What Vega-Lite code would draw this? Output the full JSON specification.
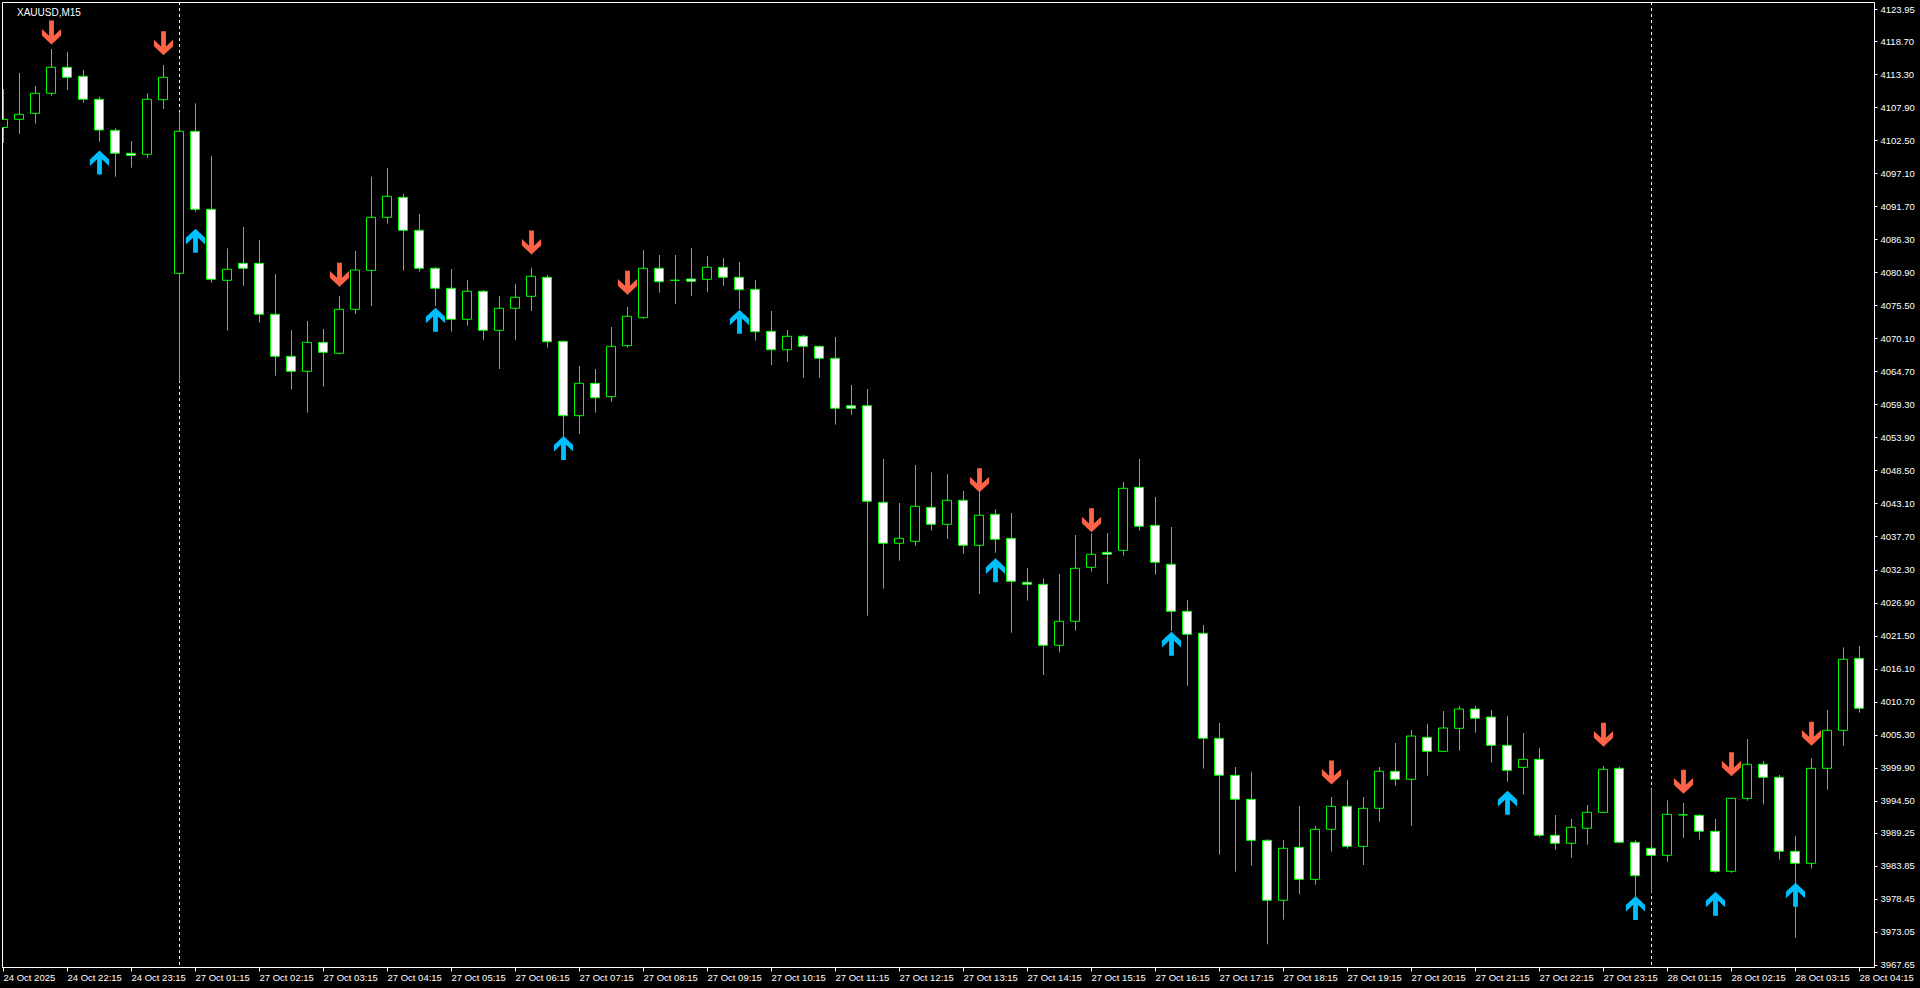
{
  "$schema": "https://vega.github.io/schema/vega-lite/v6.json",
  "width": 1872,
  "height": 965,
  "autosize": {"type": "none"},
  "padding": {"left": 2, "top": 2, "right": 46, "bottom": 21},
  "background": "#000000",
  "title": {"text": "XAUUSD,M15", "anchor": "start", "frame": "group", "orient": "top", "offset": -24, "dx": 15, "baseline": "alphabetic", "color": "#FFFFFF", "font": "Liberation Sans", "fontSize": 10, "fontWeight": "normal"},
  "config": {
    "view": {"stroke": "#FFFFFF", "strokeWidth": 1},
    "axis": {"grid": false, "title": null, "domainColor": "#FFFFFF", "domainWidth": 1, "tickColor": "#FFFFFF", "tickWidth": 1, "labelColor": "#FFFFFF", "labelFont": "Liberation Sans", "labelFontSize": 9.5, "labelOverlap": false, "labelBound": false, "labelFlush": false}
  },
  "datasets": {
    "candles": [
      {"i":0,"o":4104.60,"h":4110.90,"l":4102.07,"c":4105.94},
      {"i":1,"o":4105.94,"h":4113.52,"l":4103.54,"c":4106.76},
      {"i":2,"o":4106.92,"h":4111.39,"l":4105.22,"c":4110.20},
      {"i":3,"o":4110.20,"h":4117.44,"l":4109.80,"c":4114.45},
      {"i":4,"o":4114.45,"h":4116.95,"l":4110.74,"c":4112.81},
      {"i":5,"o":4112.98,"h":4114.01,"l":4108.66,"c":4109.21},
      {"i":6,"o":4109.21,"h":4109.64,"l":4102.28,"c":4104.19},
      {"i":7,"o":4104.14,"h":4104.47,"l":4096.55,"c":4100.38},
      {"i":8,"o":4100.38,"h":4102.39,"l":4098.03,"c":4100.05},
      {"i":9,"o":4100.22,"h":4110.20,"l":4099.66,"c":4109.21},
      {"i":10,"o":4109.15,"h":4114.82,"l":4107.63,"c":4112.81},
      {"i":11,"o":4080.75,"h":4107.19,"l":4063.02,"c":4103.98},
      {"i":12,"o":4103.98,"h":4108.56,"l":4090.83,"c":4091.22},
      {"i":13,"o":4091.22,"h":4099.94,"l":4079.21,"c":4079.77},
      {"i":14,"o":4079.61,"h":4084.84,"l":4071.36,"c":4081.41},
      {"i":15,"o":4082.39,"h":4088.33,"l":4078.72,"c":4081.57},
      {"i":16,"o":4082.39,"h":4086.20,"l":4072.67,"c":4074.05},
      {"i":17,"o":4074.05,"h":4080.64,"l":4064.00,"c":4067.17},
      {"i":18,"o":4067.17,"h":4071.48,"l":4061.78,"c":4064.72},
      {"i":19,"o":4064.72,"h":4072.95,"l":4057.95,"c":4069.46},
      {"i":20,"o":4069.46,"h":4071.64,"l":4062.20,"c":4067.83},
      {"i":21,"o":4067.67,"h":4077.04,"l":4067.50,"c":4074.86},
      {"i":22,"o":4074.86,"h":4084.40,"l":4074.09,"c":4081.29},
      {"i":23,"o":4081.24,"h":4096.55,"l":4075.40,"c":4089.91},
      {"i":24,"o":4089.91,"h":4097.98,"l":4088.87,"c":4093.35},
      {"i":25,"o":4093.18,"h":4093.72,"l":4081.18,"c":4087.79},
      {"i":26,"o":4087.79,"h":4090.45,"l":4081.01,"c":4081.57},
      {"i":27,"o":4081.57,"h":4081.73,"l":4075.40,"c":4078.30},
      {"i":28,"o":4078.30,"h":4081.46,"l":4071.20,"c":4073.23},
      {"i":29,"o":4073.23,"h":4079.66,"l":4072.18,"c":4077.81},
      {"i":30,"o":4077.81,"h":4078.02,"l":4069.84,"c":4071.43},
      {"i":31,"o":4071.43,"h":4077.04,"l":4065.10,"c":4075.03},
      {"i":32,"o":4075.03,"h":4079.00,"l":4069.84,"c":4076.83},
      {"i":33,"o":4076.99,"h":4081.67,"l":4074.59,"c":4080.26},
      {"i":34,"o":4080.10,"h":4080.47,"l":4068.58,"c":4069.56},
      {"i":35,"o":4069.63,"h":4069.70,"l":4054.02,"c":4057.46},
      {"i":36,"o":4057.46,"h":4065.59,"l":4054.47,"c":4062.76},
      {"i":37,"o":4062.76,"h":4065.10,"l":4057.95,"c":4060.40},
      {"i":38,"o":4060.57,"h":4071.97,"l":4059.75,"c":4068.81},
      {"i":39,"o":4068.91,"h":4075.24,"l":4068.58,"c":4073.72},
      {"i":40,"o":4073.49,"h":4084.56,"l":4073.33,"c":4081.57},
      {"i":41,"o":4081.57,"h":4083.75,"l":4077.58,"c":4079.38},
      {"i":42,"o":4079.61,"h":4083.75,"l":4075.73,"c":4079.61},
      {"i":43,"o":4079.82,"h":4084.89,"l":4077.04,"c":4079.44},
      {"i":44,"o":4079.77,"h":4083.58,"l":4077.69,"c":4081.73},
      {"i":45,"o":4081.73,"h":4083.25,"l":4078.67,"c":4080.10},
      {"i":46,"o":4080.10,"h":4082.60,"l":4074.91,"c":4078.07},
      {"i":47,"o":4078.13,"h":4079.66,"l":4069.73,"c":4071.20},
      {"i":48,"o":4071.26,"h":4074.59,"l":4065.75,"c":4068.25},
      {"i":49,"o":4068.25,"h":4071.48,"l":4066.29,"c":4070.45},
      {"i":50,"o":4070.45,"h":4070.66,"l":4063.67,"c":4068.81},
      {"i":51,"o":4068.81,"h":4068.90,"l":4063.67,"c":4066.85},
      {"i":52,"o":4066.85,"h":4070.33,"l":4055.99,"c":4058.67},
      {"i":53,"o":4059.09,"h":4062.48,"l":4057.62,"c":4058.67},
      {"i":54,"o":4059.09,"h":4061.83,"l":4024.74,"c":4043.46},
      {"i":55,"o":4043.29,"h":4050.38,"l":4029.16,"c":4036.59},
      {"i":56,"o":4036.59,"h":4043.18,"l":4033.74,"c":4037.40},
      {"i":57,"o":4036.91,"h":4049.39,"l":4036.19,"c":4042.64},
      {"i":58,"o":4042.47,"h":4048.20,"l":4038.65,"c":4039.69},
      {"i":59,"o":4039.69,"h":4047.92,"l":4037.29,"c":4043.62},
      {"i":60,"o":4043.62,"h":4045.14,"l":4034.88,"c":4036.26},
      {"i":61,"o":4036.26,"h":4045.03,"l":4028.29,"c":4041.17},
      {"i":62,"o":4041.33,"h":4042.15,"l":4035.05,"c":4037.24},
      {"i":63,"o":4037.40,"h":4041.54,"l":4021.96,"c":4030.37},
      {"i":64,"o":4030.21,"h":4032.55,"l":4027.20,"c":4029.88},
      {"i":65,"o":4029.88,"h":4030.86,"l":4015.04,"c":4019.90},
      {"i":66,"o":4019.90,"h":4031.56,"l":4018.76,"c":4023.83},
      {"i":67,"o":4023.83,"h":4037.94,"l":4022.29,"c":4032.50},
      {"i":68,"o":4032.66,"h":4038.20,"l":4031.94,"c":4034.79},
      {"i":69,"o":4035.11,"h":4038.27,"l":4029.98,"c":4034.79},
      {"i":70,"o":4035.44,"h":4046.61,"l":4034.56,"c":4045.58},
      {"i":71,"o":4045.75,"h":4050.38,"l":4038.65,"c":4039.37},
      {"i":72,"o":4039.53,"h":4044.16,"l":4031.45,"c":4033.48},
      {"i":73,"o":4033.15,"h":4039.25,"l":4022.24,"c":4025.46},
      {"i":74,"o":4025.46,"h":4027.31,"l":4013.29,"c":4021.70},
      {"i":75,"o":4021.86,"h":4023.22,"l":3999.72,"c":4004.69},
      {"i":76,"o":4004.69,"h":4007.19,"l":3985.65,"c":3998.64},
      {"i":77,"o":3998.64,"h":3999.99,"l":3982.87,"c":3994.71},
      {"i":78,"o":3994.71,"h":3999.22,"l":3983.91,"c":3988.00},
      {"i":79,"o":3988.00,"h":3988.17,"l":3970.99,"c":3978.19},
      {"i":80,"o":3978.19,"h":3988.05,"l":3975.02,"c":3986.70},
      {"i":81,"o":3986.86,"h":3993.61,"l":3979.17,"c":3981.62},
      {"i":82,"o":3981.62,"h":3990.34,"l":3980.74,"c":3989.80},
      {"i":83,"o":3989.80,"h":3995.09,"l":3986.14,"c":3993.57},
      {"i":84,"o":3993.57,"h":3997.87,"l":3986.63,"c":3987.02},
      {"i":85,"o":3987.02,"h":3995.09,"l":3983.96,"c":3993.24},
      {"i":86,"o":3993.24,"h":3999.99,"l":3991.05,"c":3999.29},
      {"i":87,"o":3999.29,"h":4003.92,"l":3996.93,"c":3997.98},
      {"i":88,"o":3997.98,"h":4006.05,"l":3990.39,"c":4005.06},
      {"i":89,"o":4004.85,"h":4007.03,"l":3998.57,"c":4002.56},
      {"i":90,"o":4002.56,"h":4009.15,"l":4002.50,"c":4006.37},
      {"i":91,"o":4006.32,"h":4009.97,"l":4002.66,"c":4009.48},
      {"i":92,"o":4009.48,"h":4009.97,"l":4005.60,"c":4007.96},
      {"i":93,"o":4008.17,"h":4009.32,"l":4000.70,"c":4003.54},
      {"i":94,"o":4003.54,"h":4008.34,"l":3997.59,"c":3999.45},
      {"i":95,"o":3999.94,"h":4005.56,"l":3995.46,"c":4001.25},
      {"i":96,"o":4001.25,"h":4003.10,"l":3988.49,"c":3988.82},
      {"i":97,"o":3988.82,"h":3992.14,"l":3986.47,"c":3987.51},
      {"i":98,"o":3987.51,"h":3991.49,"l":3985.16,"c":3990.13},
      {"i":99,"o":3989.97,"h":3993.78,"l":3987.28,"c":3992.58},
      {"i":100,"o":3992.58,"h":4000.16,"l":3992.50,"c":3999.62},
      {"i":101,"o":3999.78,"h":4000.04,"l":3987.51,"c":3987.68},
      {"i":102,"o":3987.68,"h":3988.05,"l":3978.78,"c":3982.21},
      {"i":103,"o":3986.70,"h":3996.40,"l":3979.43,"c":3985.55},
      {"i":104,"o":3985.55,"h":3994.55,"l":3984.50,"c":3992.26},
      {"i":105,"o":3992.17,"h":3994.11,"l":3988.38,"c":3992.17},
      {"i":106,"o":3992.09,"h":3992.31,"l":3988.10,"c":3989.48},
      {"i":107,"o":3989.48,"h":3991.49,"l":3982.70,"c":3982.93},
      {"i":108,"o":3982.93,"h":3994.90,"l":3982.70,"c":3994.87},
      {"i":109,"o":3994.87,"h":4004.57,"l":3994.48,"c":4000.44},
      {"i":110,"o":4000.44,"h":4000.98,"l":3993.89,"c":3998.31},
      {"i":111,"o":3998.31,"h":3998.69,"l":3984.83,"c":3986.20},
      {"i":112,"o":3986.20,"h":3988.71,"l":3972.07,"c":3984.24},
      {"i":113,"o":3984.24,"h":4001.42,"l":3983.42,"c":3999.78},
      {"i":114,"o":3999.78,"h":4009.32,"l":3996.28,"c":4006.00},
      {"i":115,"o":4006.00,"h":4019.57,"l":4003.48,"c":4017.61},
      {"i":116,"o":4017.77,"h":4019.79,"l":4008.88,"c":4009.60}
    ],
    "signals": [
      {"i":3,"sig":"sell","p":4120.14},
      {"i":10,"sig":"sell","p":4118.37},
      {"i":21,"sig":"sell","p":4080.52},
      {"i":33,"sig":"sell","p":4085.77},
      {"i":39,"sig":"sell","p":4079.22},
      {"i":61,"sig":"sell","p":4046.88},
      {"i":68,"sig":"sell","p":4040.34},
      {"i":83,"sig":"sell","p":3999.09},
      {"i":100,"sig":"sell","p":4005.29},
      {"i":105,"sig":"sell","p":3997.60},
      {"i":108,"sig":"sell","p":4000.43},
      {"i":113,"sig":"sell","p":4005.45},
      {"i":6,"sig":"buy","p":4098.88},
      {"i":12,"sig":"buy","p":4086.06},
      {"i":27,"sig":"buy","p":4073.16},
      {"i":35,"sig":"buy","p":4052.18},
      {"i":46,"sig":"buy","p":4072.84},
      {"i":62,"sig":"buy","p":4032.16},
      {"i":73,"sig":"buy","p":4020.14},
      {"i":94,"sig":"buy","p":3994.13},
      {"i":102,"sig":"buy","p":3976.93},
      {"i":107,"sig":"buy","p":3977.63},
      {"i":112,"sig":"buy","p":3979.11}
    ],
    "separators": [{"i": 11}, {"i": 103}]
  },
  "encoding": {
    "x": {
      "field": "i", "type": "quantitative",
      "scale": {"domain": [-0.0625, 116.9375], "nice": false, "zero": false, "padding": 0},
      "axis": {
        "orient": "bottom",
        "values": [0,4,8,12,16,20,24,28,32,36,40,44,48,52,56,60,64,68,72,76,80,84,88,92,96,100,104,108,112,116],
        "labelExpr": "['24 Oct 2025','24 Oct 22:15','24 Oct 23:15','27 Oct 01:15','27 Oct 02:15','27 Oct 03:15','27 Oct 04:15','27 Oct 05:15','27 Oct 06:15','27 Oct 07:15','27 Oct 08:15','27 Oct 09:15','27 Oct 10:15','27 Oct 11:15','27 Oct 12:15','27 Oct 13:15','27 Oct 14:15','27 Oct 15:15','27 Oct 16:15','27 Oct 17:15','27 Oct 18:15','27 Oct 19:15','27 Oct 20:15','27 Oct 21:15','27 Oct 22:15','27 Oct 23:15','28 Oct 01:15','28 Oct 02:15','28 Oct 03:15','28 Oct 04:15'][round(datum.value/4)]",
        "labelAlign": "left",
        "labelBaseline": "top",
        "labelPadding": 1,
        "labelDx": -1,
        "tickSize": 4
      }
    }
  },
  "layer": [
    {
      "data": {"name": "separators"},
      "mark": {"type": "rule", "color": "#FFFFFF", "strokeWidth": 1, "strokeDash": [3, 3], "xOffset": 0.5},
      "encoding": {}
    },
    {
      "data": {"name": "candles"},
      "mark": {"type": "rule", "color": "#00FF00", "strokeWidth": 1, "clip": true, "xOffset": 0.5},
      "encoding": {
        "y": {
          "field": "l", "type": "quantitative",
          "scale": {"domain": [3967.28, 4125.13], "nice": false, "zero": false, "padding": 0},
          "axis": {
            "orient": "right",
            "values": [4123.95,4118.70,4113.30,4107.90,4102.50,4097.10,4091.70,4086.30,4080.90,4075.50,4070.10,4064.70,4059.30,4053.90,4048.50,4043.10,4037.70,4032.30,4026.90,4021.50,4016.10,4010.70,4005.30,3999.90,3994.50,3989.25,3983.85,3978.45,3973.05,3967.65],
            "format": ".2f",
            "tickSize": 3,
            "labelPadding": 3,
            "labelBaseline": "middle"
          }
        },
        "y2": {"field": "h"}
      }
    },
    {
      "data": {"name": "candles"},
      "mark": {"type": "bar", "width": 9, "stroke": "#00FF00", "strokeWidth": 1, "opacity": 1, "clip": true},
      "encoding": {
        "y": {
          "field": "o", "type": "quantitative",
          "scale": {"domain": [3967.28, 4125.13], "nice": false, "zero": false, "padding": 0},
          "axis": {
            "orient": "right",
            "values": [4123.95,4118.70,4113.30,4107.90,4102.50,4097.10,4091.70,4086.30,4080.90,4075.50,4070.10,4064.70,4059.30,4053.90,4048.50,4043.10,4037.70,4032.30,4026.90,4021.50,4016.10,4010.70,4005.30,3999.90,3994.50,3989.25,3983.85,3978.45,3973.05,3967.65],
            "format": ".2f",
            "tickSize": 3,
            "labelPadding": 3,
            "labelBaseline": "middle"
          }
        },
        "y2": {"field": "c"},
        "fill": {"condition": {"test": "datum.c >= datum.o", "value": "#000000"}, "value": "#FFFFFF"}
      }
    },
    {
      "data": {"name": "signals"},
      "mark": {"type": "point", "filled": true, "size": 576, "opacity": 1, "strokeWidth": 0, "xOffset": 0.5},
      "encoding": {
        "y": {
          "field": "p", "type": "quantitative",
          "scale": {"domain": [3967.28, 4125.13], "nice": false, "zero": false, "padding": 0},
          "axis": {
            "orient": "right",
            "values": [4123.95,4118.70,4113.30,4107.90,4102.50,4097.10,4091.70,4086.30,4080.90,4075.50,4070.10,4064.70,4059.30,4053.90,4048.50,4043.10,4037.70,4032.30,4026.90,4021.50,4016.10,4010.70,4005.30,3999.90,3994.50,3989.25,3983.85,3978.45,3973.05,3967.65],
            "format": ".2f",
            "tickSize": 3,
            "labelPadding": 3,
            "labelBaseline": "middle"
          }
        },
        "shape": {
          "field": "sig", "type": "nominal", "legend": null,
          "scale": {"domain": ["sell", "buy"], "range": [
            "M -0.2 -1 L 0.2 -1 L 0.2 0.26 L 0.8 -0.3 L 0.8 0.25 L 0 1 L -0.8 0.25 L -0.8 -0.3 L -0.2 0.26 Z",
            "M -0.2 1 L 0.2 1 L 0.2 -0.26 L 0.8 0.3 L 0.8 -0.25 L 0 -1 L -0.8 -0.25 L -0.8 0.3 L -0.2 -0.26 Z"
          ]}
        },
        "fill": {
          "field": "sig", "type": "nominal", "legend": null,
          "scale": {"domain": ["sell", "buy"], "range": ["#FF6347", "#00BFFF"]}
        }
      }
    }
  ]
}
